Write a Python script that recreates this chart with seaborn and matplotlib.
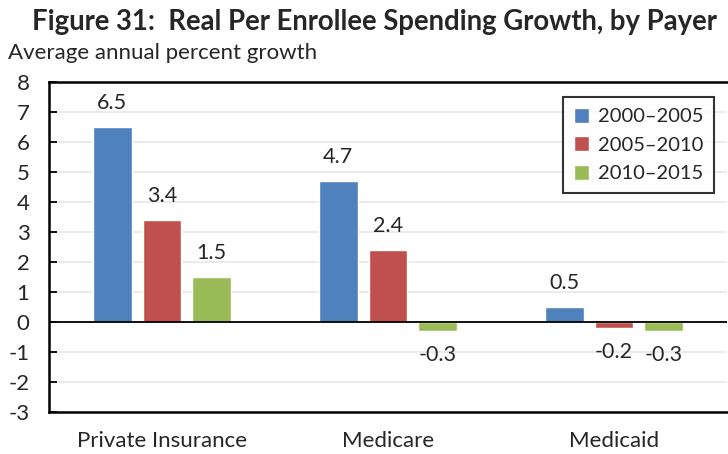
import matplotlib
matplotlib.use("Agg")
import matplotlib.pyplot as plt
import seaborn as sns
import pandas as pd

# Average annual percent growth in real per-enrollee spending
payers = ["Private Insurance", "Medicare", "Medicaid"]
periods = ["2000\u20132005", "2005\u20132010", "2010\u20132015"]
growth_2000_2005 = [6.5, 4.7, 0.5]
growth_2005_2010 = [3.4, 2.4, -0.2]
growth_2010_2015 = [1.5, -0.3, -0.3]
y_ticks = list(range(-3, 9))

palette = ["#4F81BD", "#C0504D", "#9BBB59"]

rows = []
for period, values in zip(periods, [growth_2000_2005, growth_2005_2010, growth_2010_2015]):
    for payer, v in zip(payers, values):
        rows.append({"Payer": payer, "Period": period, "Growth": v})
df = pd.DataFrame(rows)

sns.set_theme(style="white")
plt.rcParams["font.family"] = ["Lato", "DejaVu Sans"]
plt.rcParams["axes.unicode_minus"] = False

fig = plt.figure(figsize=(7.28, 4.54), dpi=100)
ax = fig.add_axes([49 / 728, 1 - 412 / 454, 678 / 728, 330 / 454])

sns.barplot(data=df, x="Payer", y="Growth", hue="Period", order=payers,
            hue_order=periods, palette=palette, width=0.66, gap=0.22,
            saturation=1, ax=ax, legend=True, zorder=3)

ax.set_xlim(-0.5, 2.5)
ax.set_ylim(-3, 8)
ax.set_yticks(y_ticks)
ax.set_yticklabels([str(t) for t in y_ticks])
ax.set_xlabel("")
ax.set_ylabel("")

ax.grid(axis="y", color="#E8E8E8", linewidth=1.2, zorder=0)
ax.axhline(0, color="black", linewidth=1.3, zorder=4)

for side in ["left", "top", "bottom"]:
    ax.spines[side].set_visible(True)
    ax.spines[side].set_color("black")
    ax.spines[side].set_linewidth(1.8)
ax.spines["right"].set_visible(False)

ax.tick_params(axis="y", direction="in", length=6, width=1.3, color="black",
               labelsize=16, pad=14, left=True)
ax.tick_params(axis="x", length=0, labelsize=16, pad=14)
for lab in ax.get_yticklabels():
    lab.set_horizontalalignment("right")

for container in ax.containers:
    ax.bar_label(container, fmt="{:.1f}", padding=10, fontsize=15.5)

leg = ax.legend(loc="upper right", bbox_to_anchor=(0.981, 0.955),
                borderaxespad=0, frameon=True, fancybox=False,
                edgecolor="black", fontsize=14.5, handlelength=0.75,
                handleheight=0.75, handletextpad=0.4, labelspacing=0.55,
                borderpad=0.55)
leg.get_frame().set_linewidth(1.5)

fig.text(0.515, 0.951, "Figure 31:  Real Per Enrollee Spending Growth, by Payer",
         ha="center", va="center", fontsize=19.8, fontweight="bold")
fig.text(8 / 728, 1 - 53 / 454, "Average annual percent growth",
         ha="left", va="center", fontsize=16)

fig.savefig("out.png", dpi=100)
